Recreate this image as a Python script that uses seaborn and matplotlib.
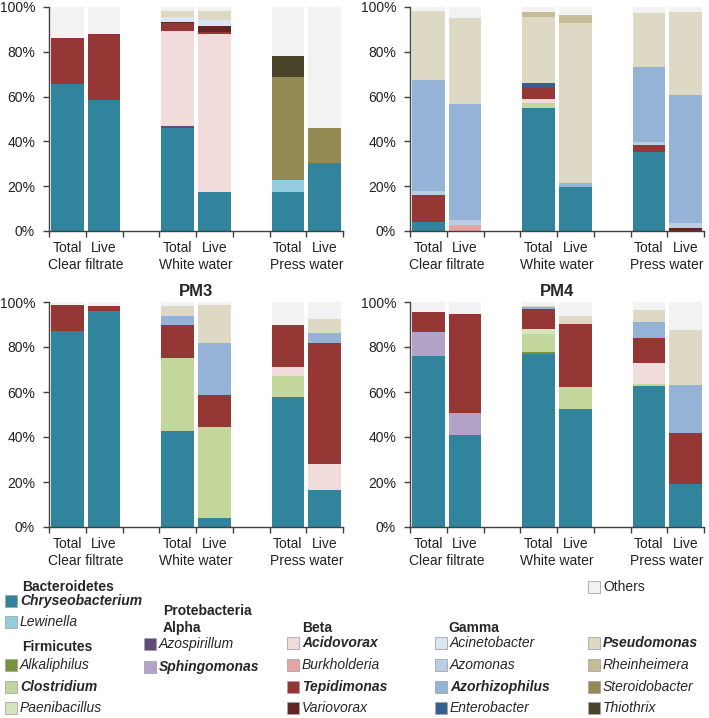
import numpy as np
import pandas as pd
import seaborn as sns
import matplotlib.pyplot as plt
from matplotlib.patches import Rectangle

# stacking order, bottom to top
genera = ["Chryseobacterium", "Lewinella", "Alkaliphilus", "Clostridium", "Paenibacillus",
          "Azospirillum", "Sphingomonas", "Acidovorax", "Burkholderia", "Tepidimonas",
          "Variovorax", "Acinetobacter", "Azomonas", "Azorhizophilus", "Enterobacter",
          "Pseudomonas", "Rheinheimera", "Steroidobacter", "Thiothrix", "Others"]
colors = ["#31849B", "#93CDDD", "#77933C", "#C3D69B", "#D7E4BD",
          "#604A7B", "#B3A2C7", "#F2DCDB", "#E6A5A4", "#953735",
          "#632523", "#DCE6F2", "#B9CDE5", "#95B3D7", "#376092",
          "#DDD9C4", "#C4BD97", "#948A54", "#4A452A", "#F2F2F2"]

samples = ["Total", "Live", "Total", "Live", "Total", "Live"]
groups = ["Clear filtrate", "White water", "Press water"]
slots = ["TCF", "LCF", "gap1", "TWW", "LWW", "gap2", "TPW", "LPW"]
bars = ["TCF", "LCF", "TWW", "LWW", "TPW", "LPW"]

# relative abundance (%), one value per bar
pm1 = {
    "Chryseobacterium": [65.5, 58.3, 46.0, 17.3, 17.3, 30.4],
    "Lewinella":        [0, 0, 0, 0, 5.6, 0],
    "Azospirillum":     [0, 0, 0.9, 0, 0, 0],
    "Acidovorax":       [0, 0, 42.4, 70.8, 0, 0],
    "Tepidimonas":      [20.7, 29.8, 3.5, 0.9, 0, 0],
    "Variovorax":       [0, 0, 0.4, 2.5, 0, 0],
    "Acinetobacter":    [0, 0, 2.5, 2.7, 0, 0],
    "Pseudomonas":      [0, 0, 2.7, 4.0, 0, 0],
    "Steroidobacter":   [0, 0, 0, 0, 46.0, 15.5],
    "Thiothrix":        [0, 0, 0, 0, 9.1, 0],
    "Others":           [13.8, 11.9, 1.6, 1.8, 22.0, 54.1],
}
pm2 = {
    "Chryseobacterium": [4.0, 0, 54.9, 19.6, 35.3, 0],
    "Clostridium":      [0, 0, 2.4, 0, 0, 0],
    "Acidovorax":       [0, 0, 1.8, 0, 0, 0],
    "Burkholderia":     [0, 2.5, 0, 0, 0, 0],
    "Tepidimonas":      [12.0, 0, 4.7, 0, 3.0, 0],
    "Variovorax":       [0, 0, 0, 0, 0, 1.2],
    "Azomonas":         [1.8, 2.3, 0, 0, 1.4, 2.2],
    "Azorhizophilus":   [49.4, 52.0, 0, 1.8, 33.5, 57.2],
    "Enterobacter":     [0, 0, 2.4, 0, 0, 0],
    "Pseudomonas":      [30.9, 38.4, 29.3, 71.6, 24.3, 37.2],
    "Rheinheimera":     [0, 0, 2.3, 3.3, 0, 0],
    "Others":           [1.9, 4.8, 2.2, 3.7, 2.5, 2.2],
}
pm3 = {
    "Chryseobacterium": [86.9, 95.8, 42.5, 4.2, 58.0, 16.3],
    "Clostridium":      [0, 0, 32.5, 40.4, 8.9, 0],
    "Acidovorax":       [0, 0, 0, 0, 4.4, 11.5],
    "Tepidimonas":      [11.8, 2.3, 14.9, 14.2, 18.3, 54.2],
    "Azorhizophilus":   [0, 0, 3.7, 23.2, 0, 4.2],
    "Pseudomonas":      [0, 0, 4.8, 16.7, 0, 6.2],
    "Others":           [1.3, 1.9, 1.6, 1.3, 10.4, 7.6],
}
pm4 = {
    "Chryseobacterium": [76.1, 41.0, 77.1, 52.6, 62.7, 19.3],
    "Alkaliphilus":     [0, 0, 0.8, 0, 0, 0],
    "Clostridium":      [0, 0, 7.8, 9.5, 0.9, 0],
    "Paenibacillus":    [0, 0, 2.3, 0, 0, 0],
    "Sphingomonas":     [10.7, 9.5, 0, 0, 0, 0],
    "Acidovorax":       [0, 0, 0, 0, 9.2, 0],
    "Tepidimonas":      [8.9, 44.3, 8.9, 28.2, 11.2, 22.3],
    "Azorhizophilus":   [0, 0, 0.9, 0, 7.1, 21.3],
    "Pseudomonas":      [0, 0, 0.6, 3.3, 5.5, 24.8],
    "Others":           [4.3, 5.2, 1.6, 6.4, 3.4, 12.3],
}

sns.set_theme(style="white")
plt.rcParams["font.family"] = ["Liberation Sans", "DejaVu Sans"]
plt.rcParams["font.size"] = 10

W, H = 709, 718
fig = plt.figure(figsize=(W / 100, H / 100), dpi=100)
color_of = dict(zip(genera, colors))
bar_x = [0, 1, 3, 4, 6, 7]


def add_axes_px(left, top, right, bottom):
    return fig.add_axes([left / W, 1 - bottom / H, (right - left) / W, (bottom - top) / H])


def draw_panel(ax, data, title=None):
    df = pd.DataFrame(data, index=bars).reindex(columns=genera, fill_value=0)
    cum = df.cumsum(axis=1)
    # draw cumulative heights from the top layer down so lower layers cover
    for g in reversed(genera):
        if df[g].sum() == 0:
            continue
        heights = np.where(df[g] > 0, cum[g], 0)
        sns.barplot(x=bars, y=heights, order=slots, color=color_of[g], width=0.89,
                    saturation=1, linewidth=0, errorbar=None, ax=ax)
    ax.set_xlim(-0.5, 7.5)
    ax.set_ylim(0, 100)
    ax.set_xlabel("")
    ax.set_ylabel("")
    ax.set_xticks(np.arange(-0.5, 8, 1))
    ax.set_xticklabels([])
    ax.set_yticks(range(0, 101, 20))
    ax.set_yticklabels([f"{v}%" for v in range(0, 101, 20)], fontsize=10, color="#222222")
    ax.tick_params(axis="both", direction="out", length=4, width=1, color="#404040",
                   bottom=True, left=True)
    ax.tick_params(axis="y", pad=6)
    for s in ["top", "right"]:
        ax.spines[s].set_visible(False)
    for s in ["left", "bottom"]:
        ax.spines[s].set_color("#404040")
        ax.spines[s].set_linewidth(1)
    tr = ax.get_xaxis_transform()
    for x, lab in zip(bar_x, samples):
        ax.text(x, -0.077, lab, transform=tr, ha="center", va="center", fontsize=10, color="#222222")
    for x, lab in zip([0.5, 3.5, 6.5], groups):
        ax.text(x, -0.153, lab, transform=tr, ha="center", va="center", fontsize=10, color="#222222")
    if title:
        ax.set_title(title, fontsize=12, fontweight="bold", pad=4)


draw_panel(add_axes_px(49, 7, 343, 231), pm1)
draw_panel(add_axes_px(410, 7, 704, 231), pm2)
draw_panel(add_axes_px(49, 302, 343, 527), pm3, "PM3")
draw_panel(add_axes_px(410, 302, 704, 527), pm4, "PM4")

# custom grouped legend
headers = [("Bacteroidetes", 22, 587), ("Firmicutes", 22, 647), ("Protebacteria", 163, 611),
           ("Alpha", 163, 628), ("Beta", 302, 628), ("Gamma", 448, 628)]
for txt, x, y in headers:
    fig.text(x / W, 1 - y / H, txt, ha="left", va="center", fontsize=10, fontweight="bold")

entries = [
    ("Chryseobacterium", 5, 601, True), ("Lewinella", 5, 622, False),
    ("Alkaliphilus", 5, 665, False), ("Clostridium", 5, 687, True), ("Paenibacillus", 5, 708, False),
    ("Azospirillum", 144, 644, False), ("Sphingomonas", 144, 667, True),
    ("Acidovorax", 287, 643, True), ("Burkholderia", 287, 665, False),
    ("Tepidimonas", 287, 687, True), ("Variovorax", 287, 708, False),
    ("Acinetobacter", 435, 643, False), ("Azomonas", 435, 665, False),
    ("Azorhizophilus", 435, 687, True), ("Enterobacter", 435, 708, False),
    ("Pseudomonas", 588, 643, True), ("Rheinheimera", 588, 665, False),
    ("Steroidobacter", 588, 687, False), ("Thiothrix", 588, 708, False),
    ("Others", 588, 587, False),
]
for name, x, y, bold in entries:
    fig.add_artist(Rectangle((x / W, 1 - (y + 6) / H), 12 / W, 12 / H, transform=fig.transFigure,
                             facecolor=color_of[name], edgecolor="#a6a6a6", linewidth=0.6))
    style = "normal" if name == "Others" else "italic"
    fig.text((x + 15) / W, 1 - y / H, name, ha="left", va="center", fontsize=10,
             fontstyle=style, fontweight="bold" if bold else "normal")

fig.savefig("out.png", dpi=100)
